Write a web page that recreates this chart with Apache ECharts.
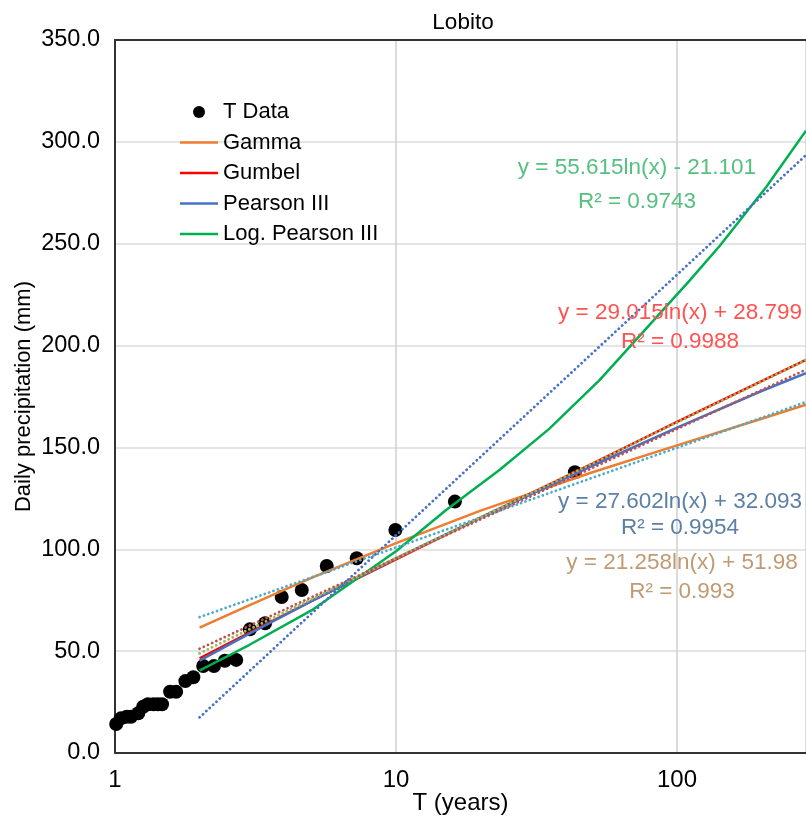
<!DOCTYPE html>
<html>
<head>
<meta charset="utf-8">
<script src="https://cdn.jsdelivr.net/npm/echarts@6/dist/echarts.min.js"></script>
<style>
html,body{margin:0;padding:0;background:#fff;}
#chart{width:806px;height:818px;}
</style>
</head>
<body>
<div id="chart"></div>
<script>
// Observed data (return period T in years, daily precipitation in mm)
const dataT = [1.01,1.05,1.10,1.14,1.21,1.26,1.31,1.37,1.42,1.47,1.57,1.65,1.78,1.90,2.06,2.25,2.46,2.70,3.02,3.42,3.92,4.62,5.67,7.25,9.95,16.2,43.3];
const dataP = [14.2,17.0,17.8,17.8,19.5,22.7,23.9,23.9,23.9,23.9,30.1,30.1,35.3,37.2,42.7,42.7,45.3,45.7,60.7,63.7,76.6,80.0,91.8,95.6,109.5,123.4,137.8];

// Fitted distribution curves
const gammaT = [2,3,5,10,20,50,100,200,287.7];
const gammaP = [61.5,72.5,86.0,103.0,119.0,137.8,151.0,164.1,171.0];
const gumbelT = [2,3,5,10,20,50,100,200,287.7];
const gumbelP = [46.5,59.0,74.5,95.0,115.5,142.0,162.5,182.5,193.0];
const p3T = [2,3,5,10,20,50,100,200,287.7];
const p3P = [45.3,58.5,74.5,95.5,115.5,141.0,159.7,177.7,186.5];
const lp3T = [2,3,5,10,15,23.4,35,53,111,142,208,287.7];
const lp3P = [40.5,53,70,99,119,139,159,183,232,249,278,305.5];

// Logarithmic trendlines (end points, straight on the log axis)
const trendT = [2,287.7];
const trendGammaP = [66.7,172.3];
const trendGumbelP = [48.9,192.9];
const trendP3P = [51.2,188.2];
const trendLp3P = [17.5,293.5];

// Axis ticks
const yMin = 0, yMax = 350, yStep = 50;
const xMin = 1, xMax = 287.7;

const title = 'Lobito';
const legendNames = ['T Data','Gamma','Gumbel','Pearson III','Log. Pearson III'];
const eqLabels = [
  ['y = 55.615ln(x) - 21.101','R² = 0.9743'],
  ['y = 29.015ln(x) + 28.799','R² = 0.9988'],
  ['y = 27.602ln(x) + 32.093','R² = 0.9954'],
  ['y = 21.258ln(x) + 51.98','R² = 0.993']
];

const zip = (a,b) => a.map((v,i)=>[v,b[i]]);
const FONT = 'Liberation Sans, Arial, sans-serif';

const chart = echarts.init(document.getElementById('chart'), null, {renderer:'canvas'});

function lineSeries(name, T, P, color, width, dotted, z) {
  return {
    name, type:'line', data: zip(T,P), showSymbol:false, symbol:'none',
    smooth: false, silent:true, z,
    lineStyle: {color, width, type: dotted ? [0.01, 4.6] : 'solid', cap: dotted ? 'round':'butt'},
    itemStyle: {color}
  };
}

const eqColors = ['#55c07f','#ff5252','#5b7fa6','#c09a72'];
const eqPos = [[637,168,202],[680,313,342],[680,502,528],[682,563,592]];
const graphics = [];
eqLabels.forEach((lab,i)=>{
  const [cx,y1,y2] = eqPos[i];
  graphics.push({type:'text', x:cx, y:y1, style:{text:lab[0], x:0, y:0, textAlign:'center', textVerticalAlign:'middle', font:'22.5px '+FONT, fill:eqColors[i]}, z:100});
  graphics.push({type:'text', x:cx, y:y2, style:{text:lab[1], x:0, y:0, textAlign:'center', textVerticalAlign:'middle', font:'22.5px '+FONT, fill:eqColors[i]}, z:100});
});

const lineIcon = 'path://M0,0h38v2.6h-38z';

chart.setOption({
  backgroundColor:'#fff',
  animation:false,
  textStyle:{fontFamily:FONT},
  title:{text:title, left:458, top:6, textAlign:'center', textStyle:{fontSize:22.5, fontWeight:'normal', color:'#000', fontFamily:FONT}},
  grid:{left:115, right:0, top:40, bottom:65, containLabel:false, outerBoundsMode:'none'},
  legend:{
    data: legendNames.map((n,i)=> i===0 ? {name:n, icon:'circle'} : {name:n, icon:lineIcon}),
    orient:'vertical', left:180, top:101, padding:0, itemGap:8.5,
    itemWidth:38, itemHeight:12,
    textStyle:{fontSize:22, color:'#000', fontFamily:FONT, lineHeight:22}
  },
  xAxis:[{
    type:'log', logBase:10, min:xMin, max:xMax,
    name:'T (years)', nameLocation:'middle', nameGap:38, nameMoveOverlap:false,
    nameTextStyle:{fontSize:24, color:'#000', fontFamily:FONT},
    axisLine:{show:true, lineStyle:{color:'#333', width:2}},
    axisTick:{show:false},
    axisLabel:{fontSize:24, color:'#000', margin:15, fontFamily:FONT, showMaxLabel:false,
      formatter:(v)=>{ const l=Math.log10(v); return Math.abs(l-Math.round(l))<1e-6 ? String(Math.round(v)) : ''; }},
    splitLine:{show:true, lineStyle:{color:'#cfcfcf', width:1.5}},
    minorTick:{show:false}, minorSplitLine:{show:false}
  },{
    type:'log', logBase:10, min:xMin, max:xMax, position:'top',
    axisLine:{show:true, onZero:false, lineStyle:{color:'#333', width:2}},
    axisTick:{show:false}, axisLabel:{show:false}, splitLine:{show:false}
  }],
  yAxis:{
    type:'value', min:yMin, max:yMax, interval:yStep,
    name:'Daily precipitation (mm)', nameLocation:'middle', nameGap:80, nameMoveOverlap:false,
    nameTextStyle:{fontSize:22, color:'#000', fontFamily:FONT},
    axisLine:{show:true, lineStyle:{color:'#333', width:2}},
    axisTick:{show:false},
    axisLabel:{fontSize:23.5, color:'#000', margin:15, fontFamily:FONT, formatter:(v)=>v.toFixed(1)},
    splitLine:{show:true, lineStyle:{color:'#dcdcdc', width:1.5}}
  },
  series:[
    {name:'T Data', type:'scatter', data: zip(dataT,dataP), symbol:'circle', symbolSize:14, itemStyle:{color:'#000', opacity:1}, z:2, silent:true},
    lineSeries('Gamma', gammaT, gammaP, '#ed7d31', 2.5, false, 3),
    lineSeries('Gumbel', gumbelT, gumbelP, '#ff0000', 2.5, false, 3),
    lineSeries('Pearson III', p3T, p3P, '#4472c4', 2.5, false, 3),
    lineSeries('Log. Pearson III', lp3T, lp3P, '#00b050', 2.5, false, 3),
    lineSeries('Trend Gamma', trendT, trendGammaP, '#4bacc6', 2.8, true, 4),
    lineSeries('Trend Gumbel', trendT, trendGumbelP, '#9bbb59', 2.8, true, 4),
    lineSeries('Trend Pearson III', trendT, trendP3P, '#c0504d', 2.8, true, 4),
    lineSeries('Trend Log. Pearson III', trendT, trendLp3P, '#4472c4', 2.8, true, 4)
  ],
  graphic: graphics
});
</script>
</body>
</html>
